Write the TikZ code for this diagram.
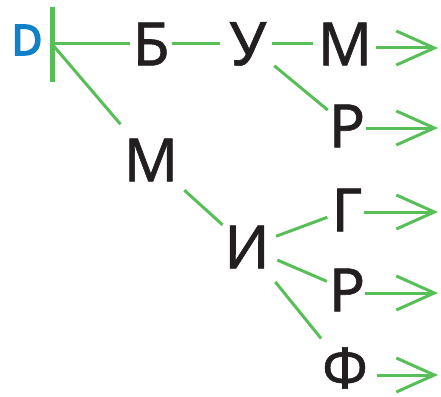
\documentclass[tikz,border=0pt]{standalone}
\usepackage{fontspec}
\setmainfont{Noto Sans}
\newfontfamily\heavyfont{Noto Sans}[FakeBold=1]
\newfontfamily\dfont{Noto Sans}[FakeBold=4]
\usetikzlibrary{arrows.meta}
\definecolor{lgreen}{RGB}{88,190,88}
\definecolor{dblue}{RGB}{16,128,200}
\definecolor{ink}{RGB}{35,31,32}
\tikzset{
  letter/.style={inner sep=0pt, text=ink, font=\heavyfont\fontsize{60}{60}\selectfont},
  conn/.style={draw=lgreen, line width=3pt},
  arr/.style={conn, -{Straight Barb[length=38pt,width=34pt,line width=3pt]}},
}
\begin{document}
\begin{tikzpicture}[x=1pt,y=-1pt]
\useasboundingbox (0,0) rectangle (441,396);
\node[inner sep=0pt, text=dblue, font=\dfont\fontsize{42}{42}\selectfont] (d) at (27,40) {D};
\coordinate (bar) at (52,44);
\node[letter] (b) at (151,44) {Б};
\node[letter] (u) at (248,44) {У};
\node[letter] (m1) at (345,44) {М};
\node[letter] (r1) at (347,126) {Р};
\node[letter] (m2) at (151,160) {М};
\node[letter] (i) at (247,247) {И};
\node[letter] (g) at (347,210) {Г};
\node[letter] (r2) at (347,290) {Р};
\node[letter, font=\heavyfont\fontsize{56}{56}\selectfont] (f) at (345,368) {Ф};
\coordinate (e1) at (438,48);
\coordinate (e2) at (438,128);
\coordinate (e3) at (438,212);
\coordinate (e4) at (438,293);
\coordinate (e5) at (438,375);
% bar
\draw[draw=lgreen, line width=5pt] (bar) ++(0,-37) -- ++(0,75);
% connectors
\draw[conn, shorten >=21pt] (bar) -- (b.center);
\draw[conn, shorten <=21pt, shorten >=28pt] (b.center) -- (u.center);
\draw[conn, shorten <=24pt, shorten >=32pt] (u.center) -- (m1.center);
\draw[conn, shorten <=34pt, shorten >=25pt] (u.center) -- (r1.center);
\draw[conn, shorten <=2pt, shorten >=47pt] (bar) -- (m2.center);
\draw[conn, shorten <=45pt, shorten >=33pt] (m2.center) -- (i.center);
\draw[conn, shorten <=31pt, shorten >=21pt] (i.center) -- (g.center);
\draw[conn, shorten <=33pt, shorten >=22pt] (i.center) -- (r2.center);
\draw[conn, shorten <=45pt, shorten >=38pt] (i.center) -- (f.center);
% arrows
\draw[arr, shorten <=31pt] (m1.center |- e1) -- (e1);
\draw[arr, shorten <=19pt] (r1.center |- e2) -- (e2);
\draw[arr, shorten <=17pt] (g.center |- e3) -- (e3);
\draw[arr, shorten <=18pt] (r2.center |- e4) -- (e4);
\draw[arr, shorten <=32pt] (f.center |- e5) -- (e5);
\end{tikzpicture}
\end{document}
